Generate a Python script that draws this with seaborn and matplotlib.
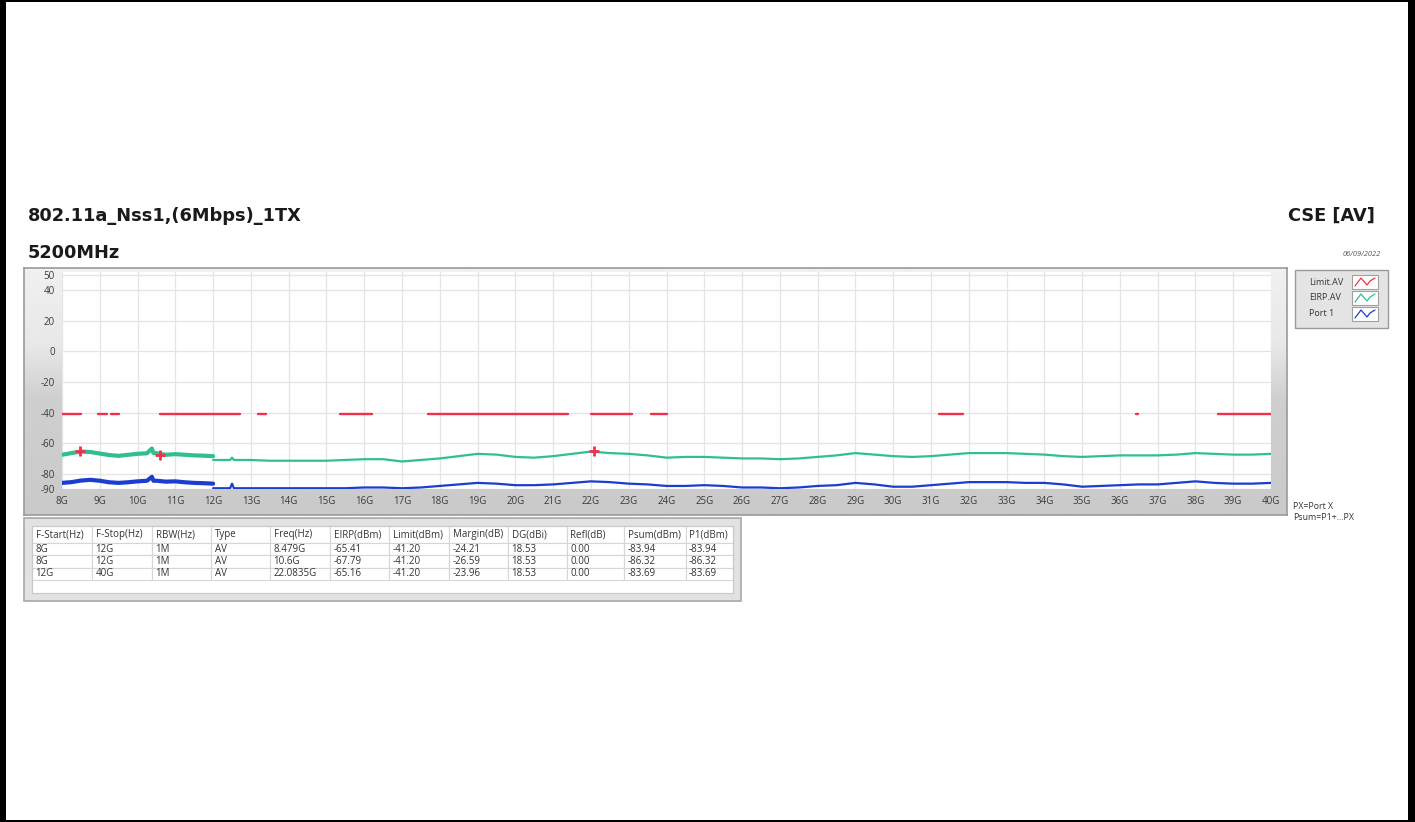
import numpy as np
import pandas as pd
import matplotlib
matplotlib.use('Agg')
import matplotlib.pyplot as plt
from matplotlib.patches import Rectangle
from matplotlib.lines import Line2D
import seaborn as sns

# valores (frequencia em GHz, nivel em dBm)
limit_level = -41.2
limit_start = [8.0, 8.96, 9.3, 10.6, 13.2, 15.35, 17.7, 22.0, 23.6, 31.2, 36.42, 38.6]
limit_stop = [8.5, 9.18, 9.5, 12.7, 13.4, 16.2, 21.4, 23.1, 24.0, 31.85, 36.48, 40.0]

low_freq = [8.0, 8.25, 8.5, 8.75, 9.0, 9.25, 9.5, 9.75, 10.0, 10.25, 10.38, 10.42, 10.5,
            10.75, 11.0, 11.25, 11.5, 11.75, 12.0]
eirp_low = [-67.6, -66.5, -65.5, -65.8, -66.8, -67.8, -68.3, -67.6, -67.0, -66.6, -63.5, -66.4,
            -66.6, -67.6, -67.2, -67.6, -68.0, -68.2, -68.5]
port1_low = [-86.0, -85.5, -84.5, -84.0, -84.6, -85.6, -86.0, -85.6, -85.0, -84.6, -82.0, -84.6,
             -84.6, -85.2, -85.0, -85.6, -86.0, -86.2, -86.5]

high_freq = [12.0, 12.45, 12.5, 12.55, 13.0, 13.5, 14.0, 14.5, 15.0, 15.5, 16.0, 16.5, 17.0, 17.5,
             18.0, 18.5, 19.0, 19.5, 20.0, 20.5, 21.0, 21.5, 22.0, 22.5, 23.0, 23.5, 24.0, 24.5,
             25.0, 25.5, 26.0, 26.5, 27.0, 27.5, 28.0, 28.5, 29.0, 29.5, 30.0, 30.5, 31.0, 31.5,
             32.0, 32.5, 33.0, 33.5, 34.0, 34.5, 35.0, 35.5, 36.0, 36.5, 37.0, 37.5, 38.0, 38.5,
             39.0, 39.5, 40.0]
eirp_high = [-71.0, -71.0, -69.5, -71.0, -71.0, -71.5, -71.5, -71.5, -71.5, -71.0, -70.5, -70.5,
             -72.0, -71.0, -70.0, -68.5, -67.0, -67.5, -69.0, -69.5, -68.5, -67.0, -65.5, -66.5,
             -67.0, -68.0, -69.5, -69.0, -69.0, -69.5, -70.0, -70.0, -70.5, -70.0, -69.0, -68.0,
             -66.5, -67.5, -68.5, -69.0, -68.5, -67.5, -66.5, -66.5, -66.5, -67.0, -67.5, -68.5,
             -69.0, -68.5, -68.0, -68.0, -68.0, -67.5, -66.5, -67.0, -67.5, -67.5, -67.0]
port1_high = [-89.5, -89.5, -86.5, -89.5, -89.5, -89.5, -89.5, -89.5, -89.5, -89.5, -89.0, -89.0,
              -89.5, -89.0, -88.0, -87.0, -86.0, -86.5, -87.5, -87.5, -87.0, -86.0, -85.0, -85.5,
              -86.5, -87.0, -88.0, -88.0, -87.5, -88.0, -89.0, -89.0, -89.5, -89.0, -88.0, -87.5,
              -86.0, -87.0, -88.5, -88.5, -87.5, -86.5, -85.5, -85.5, -85.5, -86.0, -86.0, -87.0,
              -88.5, -88.0, -87.5, -87.0, -87.0, -86.0, -85.0, -86.0, -86.5, -86.5, -86.0]

# tabela de resultados
table_header = ['F-Start(Hz)', 'F-Stop(Hz)', 'RBW(Hz)', 'Type', 'Freq(Hz)', 'EIRP(dBm)',
                'Limit(dBm)', 'Margin(dB)', 'DG(dBi)', 'Refl(dB)', 'Psum(dBm)', 'P1(dBm)']
f_start = ['8G', '8G', '12G']
f_stop = ['12G', '12G', '40G']
rbw = ['1M', '1M', '1M']
det_type = ['AV', 'AV', 'AV']
peak_freq_label = ['8.479G', '10.6G', '22.0835G']
peak_freq = [8.479, 10.6, 22.0835]
peak_eirp = [-65.41, -67.79, -65.16]
peak_limit = [-41.20, -41.20, -41.20]
peak_margin = [-24.21, -26.59, -23.96]
dg = [18.53, 18.53, 18.53]
refl = [0.00, 0.00, 0.00]
psum = [-83.94, -86.32, -83.69]
p1 = [-83.94, -86.32, -83.69]

legend_labels = ['Limit.AV', 'EIRP.AV', 'Port 1']
x_ticks = list(range(8, 41))
y_ticks = [50, 40, 20, 0, -20, -40, -60, -80, -90]

RED = '#f0304c'
GREEN = '#30c08e'
BLUE = '#1c3ed0'

W, H = 1415, 822


def fx(px):
    return px / W


def fy(py):
    return 1 - py / H


sns.set_style('white')
plt.rcParams['font.family'] = ['Open Sans', 'DejaVu Sans']
plt.rcParams['axes.unicode_minus'] = False

fig = plt.figure(figsize=(W / 100, H / 100), dpi=100)

# painel cinza atras do grafico
bg = fig.add_axes([fx(24), fy(515), fx(1287 - 24), (515 - 268) / H])
grad = np.concatenate([np.linspace(0.94, 0.91, 40), np.linspace(0.91, 0.81, 30),
                       np.linspace(0.81, 0.79, 60)]).reshape(-1, 1)
bg.imshow(grad, aspect='auto', cmap='gray', vmin=0, vmax=1, extent=[0, 1, 0, 1])
bg.set_xticks([])
bg.set_yticks([])
for s in bg.spines.values():
    s.set_color('#9a9a9a')
    s.set_linewidth(1.2)

ax = fig.add_axes([fx(62), fy(489), fx(1271 - 62), (489 - 272) / H])
ax.set_facecolor('white')

lim_rows = []
for i, (a, b) in enumerate(zip(limit_start, limit_stop)):
    lim_rows.append({'freq': a, 'level': limit_level, 'seg': i})
    lim_rows.append({'freq': b, 'level': limit_level, 'seg': i})
lim_df = pd.DataFrame(lim_rows)

low_df = pd.DataFrame({'freq': low_freq, 'eirp': eirp_low, 'port1': port1_low})
high_df = pd.DataFrame({'freq': high_freq, 'eirp': eirp_high, 'port1': port1_high})
peak_df = pd.DataFrame({'freq': peak_freq, 'eirp': peak_eirp})

sns.lineplot(data=lim_df, x='freq', y='level', units='seg', estimator=None, color=RED,
             linewidth=1.7, ax=ax, legend=False)
sns.lineplot(data=low_df, x='freq', y='eirp', estimator=None, sort=False, color=GREEN,
             linewidth=3.0, ax=ax)
sns.lineplot(data=high_df, x='freq', y='eirp', estimator=None, sort=False, color=GREEN,
             linewidth=1.6, ax=ax)
sns.lineplot(data=low_df, x='freq', y='port1', estimator=None, sort=False, color=BLUE,
             linewidth=3.0, ax=ax)
sns.lineplot(data=high_df, x='freq', y='port1', estimator=None, sort=False, color=BLUE,
             linewidth=1.6, ax=ax)
sns.scatterplot(data=peak_df, x='freq', y='eirp', marker='+', s=60, color=RED,
                linewidth=2, ax=ax, zorder=5)

ax.set_xlim(8, 40)
ax.set_ylim(-90, 52)
ax.set_xticks(x_ticks)
ax.set_xticklabels([f'{t}G' for t in x_ticks])
ax.set_yticks(y_ticks)
ax.set_yticklabels([str(t) for t in y_ticks])
ax.set_xlabel('')
ax.set_ylabel('')
ax.grid(True, color='#e4e4e4', linewidth=0.9)
ax.set_axisbelow(True)
for s in ax.spines.values():
    s.set_visible(False)
ax.tick_params(axis='both', labelsize=7, colors='#3a3a3a', length=3, width=0.8,
               direction='out', pad=2)

# legenda (feita a mao para alinhar os textos a esquerda)
fig.add_artist(Rectangle((fx(1295), fy(328)), fx(1388 - 1295), (328 - 270) / H,
                         transform=fig.transFigure, facecolor='#e4e4e4',
                         edgecolor='#9a9a9a', linewidth=1.0, zorder=1))
for i, (lab, col) in enumerate(zip(legend_labels, [RED, GREEN, BLUE])):
    yc = 282 + 16 * i
    fig.text(fx(1309), fy(yc), lab, fontsize=6.5, color='#333333', va='center', zorder=2)
    fig.add_artist(Rectangle((fx(1352), fy(yc + 7)), fx(26), 14 / H,
                             transform=fig.transFigure, facecolor='white',
                             edgecolor='#a0a0a0', linewidth=0.8, zorder=2))
    zx = [1355, 1361, 1367, 1370, 1375]
    zy = [yc + 4, yc - 4, yc + 3, yc - 1, yc - 4]
    fig.add_artist(Line2D([fx(v) for v in zx], [fy(v) for v in zy], transform=fig.transFigure,
                          color=col, lw=0.9, zorder=3))

fig.text(fx(1293), fy(506), 'PX=Port X', fontsize=6.3, color='#333333', va='center')
fig.text(fx(1293), fy(518), 'Psum=P1+...PX', fontsize=6.3, color='#333333', va='center')

# titulos
title_kw = dict(fontsize=12.8, fontweight='bold', color='#1a1a1a', va='center',
                family='DejaVu Sans')
fig.text(fx(28), fy(216), '802.11a_Nss1,(6Mbps)_1TX', **title_kw)
fig.text(fx(28), fy(253), '5200MHz', **title_kw)
fig.text(fx(1375), fy(216), 'CSE [AV]', ha='right', **title_kw)
fig.text(fx(1381), fy(255), '06/09/2022', fontsize=5.3, color='#555555', va='center',
         ha='right', style='italic')

# tabela
fig.add_artist(Rectangle((fx(24), fy(601)), fx(741 - 24), (601 - 518) / H,
                         transform=fig.transFigure, facecolor='#e2e2e2',
                         edgecolor='#a8a8a8', linewidth=1.2, zorder=-1))
tax = fig.add_axes([fx(32), fy(593), fx(733 - 32), (593 - 526) / H])
tax.set_facecolor('white')
tax.set_xticks([])
tax.set_yticks([])
for s in tax.spines.values():
    s.set_color('#c8c8c8')

rows = []
for i in range(3):
    rows.append([f_start[i], f_stop[i], rbw[i], det_type[i], peak_freq_label[i],
                 f'{peak_eirp[i]:.2f}', f'{peak_limit[i]:.2f}', f'{peak_margin[i]:.2f}',
                 f'{dg[i]:.2f}', f'{refl[i]:.2f}', f'{psum[i]:.2f}', f'{p1[i]:.2f}'])
col_edges = [32, 92, 152, 211, 270, 330, 389, 449, 508, 567, 624, 686, 733]
col_w = [(b - a) / (733 - 32) for a, b in zip(col_edges[:-1], col_edges[1:])]
tbl = tax.table(cellText=rows, colLabels=table_header, colWidths=col_w, cellLoc='left',
                colLoc='left', bbox=[0, (593 - 580) / (593 - 526), 1, (580 - 526) / (593 - 526)])
tbl.auto_set_font_size(False)
tbl.set_fontsize(7.0)
for (r, c), cell in tbl.get_celld().items():
    cell.set_edgecolor('#d6d6d6')
    cell.set_linewidth(0.8)
    cell.PAD = 0.06
    cell.get_text().set_color('#333333')
    if r == 0:
        cell.set_height(cell.get_height() * 1.4)

# moldura preta da imagem
for (x0, y0, w, h) in [(0, 0, 6, H), (W - 7, 0, 7, H), (0, 0, W, 2), (0, H - 2, W, 2)]:
    fig.add_artist(Rectangle((fx(x0), fy(y0 + h)), w / W, h / H, transform=fig.transFigure,
                             facecolor='black', edgecolor='none', zorder=10))

fig.savefig('out.png', dpi=100)
